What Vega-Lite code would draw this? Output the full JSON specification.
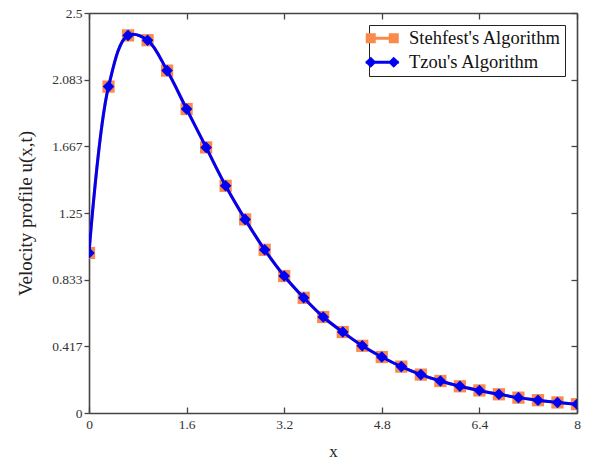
{
  "$schema": "https://vega.github.io/schema/vega-lite/v6.json",
  "width": 488,
  "height": 400,
  "autosize": {"type": "none"},
  "padding": {"left": 89, "top": 13, "right": 15, "bottom": 50},
  "background": "white",
  "config": {
    "view": {"stroke": null},
    "font": "Liberation Serif",
    "axis": {
      "labelFont": "Liberation Serif",
      "titleFont": "Liberation Serif",
      "labelColor": "#333",
      "titleColor": "#222",
      "labelFontSize": 13.5,
      "titleFontWeight": "normal",
      "domainColor": "#444",
      "domainWidth": 1.6,
      "tickColor": "#444",
      "tickWidth": 1.3,
      "grid": false
    }
  },
  "data": {
    "values": [
      {"x": 0.0, "s": 1.0, "t": 1.0},
      {"x": 0.32, "s": 2.04, "t": 2.04},
      {"x": 0.64, "s": 2.36, "t": 2.36},
      {"x": 0.96, "s": 2.33, "t": 2.33},
      {"x": 1.28, "s": 2.14, "t": 2.14},
      {"x": 1.6, "s": 1.9, "t": 1.9},
      {"x": 1.92, "s": 1.66, "t": 1.66},
      {"x": 2.24, "s": 1.42, "t": 1.42},
      {"x": 2.56, "s": 1.21, "t": 1.21},
      {"x": 2.88, "s": 1.02, "t": 1.02},
      {"x": 3.2, "s": 0.856, "t": 0.856},
      {"x": 3.52, "s": 0.72, "t": 0.72},
      {"x": 3.84, "s": 0.6, "t": 0.6},
      {"x": 4.16, "s": 0.506, "t": 0.506},
      {"x": 4.48, "s": 0.42, "t": 0.42},
      {"x": 4.8, "s": 0.35, "t": 0.35},
      {"x": 5.12, "s": 0.29, "t": 0.29},
      {"x": 5.44, "s": 0.24, "t": 0.24},
      {"x": 5.76, "s": 0.2, "t": 0.2},
      {"x": 6.08, "s": 0.167, "t": 0.167},
      {"x": 6.4, "s": 0.141, "t": 0.141},
      {"x": 6.72, "s": 0.117, "t": 0.117},
      {"x": 7.04, "s": 0.096, "t": 0.096},
      {"x": 7.36, "s": 0.08, "t": 0.08},
      {"x": 7.68, "s": 0.066, "t": 0.066},
      {"x": 8.0, "s": 0.055, "t": 0.055}
    ]
  },
  "layer": [
    {
      "mark": {"type": "line", "color": "#f98a4c", "strokeWidth": 3, "interpolate": "catmull-rom", "clip": true},
      "encoding": {
        "x": {"field": "x", "type": "quantitative", "scale": {"domain": [0, 8], "nice": false},
          "axis": {"orient": "bottom", "values": [0, 1.6, 3.2, 4.8, 6.4, 8], "labelExpr": "toString(datum.value)", "tickSize": -6, "labelPadding": 10, "title": "x", "titleFontSize": 17, "titlePadding": 13, "labelFlush": false}},
        "y": {"field": "s", "type": "quantitative", "scale": {"domain": [0, 2.5], "nice": false},
          "axis": {"orient": "left", "values": [0, 0.417, 0.833, 1.25, 1.667, 2.083, 2.5], "labelExpr": "toString(datum.value)", "tickSize": 5, "labelPadding": 2, "title": "Velocity profile u(x,t)", "titleFontSize": 19, "titlePadding": 16, "labelFlush": false}}
      }
    },
    {
      "mark": {"type": "point", "shape": "square", "filled": true, "color": "#f98a4c", "opacity": 1, "size": 150, "clip": true},
      "encoding": {
        "x": {"field": "x", "type": "quantitative", "axis": null},
        "y": {"field": "s", "type": "quantitative", "axis": null}
      }
    },
    {
      "mark": {"type": "line", "color": "#0000f2", "strokeWidth": 3, "interpolate": "catmull-rom", "clip": true},
      "encoding": {
        "x": {"field": "x", "type": "quantitative",
          "axis": {"orient": "top", "values": [0, 1.6, 3.2, 4.8, 6.4, 8], "labels": false, "tickSize": -6, "title": null}},
        "y": {"field": "t", "type": "quantitative",
          "axis": {"orient": "right", "values": [0, 0.417, 0.833, 1.25, 1.667, 2.083, 2.5], "labels": false, "tickSize": -6, "title": null}}
      }
    },
    {
      "mark": {"type": "point", "shape": "diamond", "filled": true, "color": "#0000f2", "opacity": 1, "size": 135, "clip": true},
      "encoding": {
        "x": {"field": "x", "type": "quantitative", "axis": null},
        "y": {"field": "t", "type": "quantitative", "axis": null}
      }
    },
    {
      "transform": [{"filter": "datum.x < 0"}],
      "mark": {"type": "point", "filled": true, "opacity": 1, "strokeWidth": 0},
      "encoding": {
        "x": {"field": "x", "type": "quantitative", "axis": null},
        "y": {"field": "t", "type": "quantitative", "axis": null},
        "color": {"field": "method", "type": "nominal",
          "scale": {"domain": ["Stehfest's Algorithm", "Tzou's Algorithm"], "range": ["#f98a4c", "#0000f2"]},
          "legend": {
            "title": null,
            "orient": "none",
            "legendX": 280,
            "legendY": 12,
            "padding": 4,
            "strokeColor": "#222",
            "fillColor": "white",
            "symbolSize": 196,
            "symbolOffset": 0,
            "symbolStrokeWidth": 0,
            "labelFont": "Liberation Serif",
            "labelFontSize": 18.5,
            "labelColor": "#111",
            "labelOffset": 17.5,
            "rowPadding": 5,
            "labelLimit": 300
          }},
        "shape": {"field": "method", "type": "nominal",
          "scale": {"domain": ["Stehfest's Algorithm", "Tzou's Algorithm"],
            "range": [
              "M-2.36,-0.2H2.36V0.2H-2.36Z M-2.36,-0.71H-0.93V0.71H-2.36Z M0.93,-0.71H2.36V0.71H0.93Z",
              "M-2.36,-0.2H2.36V0.2H-2.36Z M-2.44,0L-1.64,-0.8L-0.84,0L-1.64,0.8Z M0.84,0L1.64,-0.8L2.44,0L1.64,0.8Z"
            ]}}
      }
    }
  ],
  "resolve": {"axis": {"x": "independent", "y": "independent"}}
}
